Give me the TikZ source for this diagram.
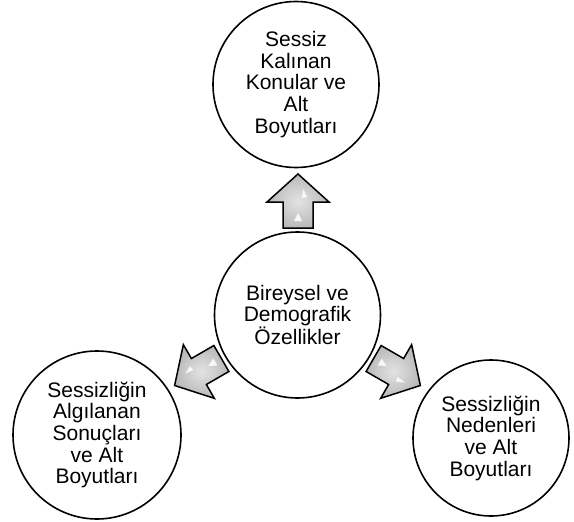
\documentclass[tikz,border=0pt]{standalone}
\usepackage{fontspec}
\setmainfont{Liberation Sans}
\begin{document}
\begin{tikzpicture}[x=1pt,y=-1pt,
  bubble/.style={draw=black, line width=1.6pt, circle, inner sep=0pt, align=center,
    font=\fontsize{21}{21.7}\selectfont, fill=white},
  bigarrow/.style={draw=black, line width=1.5pt, line join=miter,
    shading=radial, inner color=gray!22, outer color=gray!55}]
\useasboundingbox (0,0) rectangle (574,522);
\node[bubble, minimum size=166pt] (top) at (296,84.5) {Sessiz\\Kalınan\\Konular ve\\Alt\\Boyutları};
\node[bubble, minimum size=166pt] (mid) at (297.5,315) {Bireysel ve\\Demografik\\Özellikler};
\node[bubble, minimum size=168pt] (left) at (97,435) {Sessizliğin\\Algılanan\\Sonuçları\\ve Alt\\Boyutları};
\node[bubble, minimum size=156pt] (right) at (491,438) {Sessizliğin\\Nedenleri\\ve Alt\\Boyutları};
\foreach \cx/\cy/\ang in {298/201/0, 198/372/120, 397/372/-120}{
  \begin{scope}[shift={(\cx,\cy)}, rotate=\ang]
    \path[bigarrow] (0,-27) -- (31,1) -- (15,1) -- (15,27) -- (-15,27) -- (-15,1) -- (-31,1) -- cycle;
    \fill[white, opacity=0.85] (5,-12) -- (9,-4) -- (4,-3) -- cycle;
    \fill[white, opacity=0.85] (-4,20) -- (0,12) -- (4,20) -- cycle;
  \end{scope}
}
\end{tikzpicture}
\end{document}
